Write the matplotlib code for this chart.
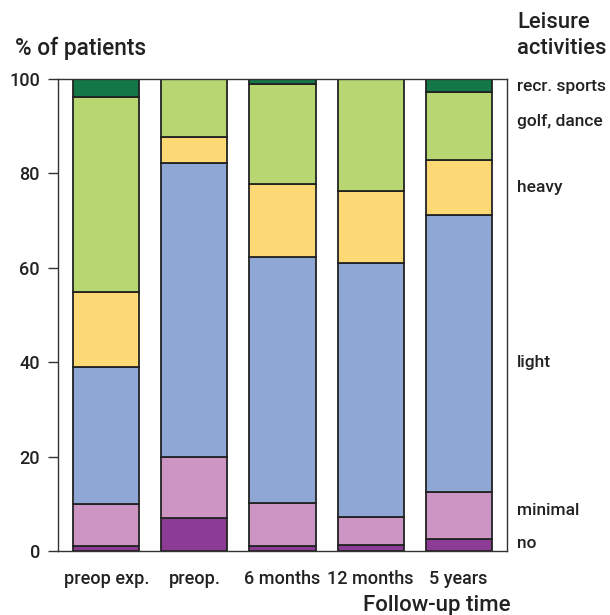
import numpy as np
import matplotlib

matplotlib.use("Agg")
import matplotlib.pyplot as plt

plt.rcParams["font.family"] = ["Roboto", "DejaVu Sans"]
plt.rcParams["font.weight"] = "medium"

periods = ["preop exp.", "preop.", "6 months", "12 months", "5 years"]
activities = ["no", "minimal", "light", "heavy", "golf, dance", "recr. sports"]
colors = ["#8c3c95", "#cc95c4", "#8fa7d4", "#fdd976", "#b8d672", "#137748"]

# % of patients per activity level (bottom to top)
no_act = [1.0, 7.0, 1.0, 1.2, 2.6]
minimal = [9.0, 13.0, 9.2, 6.0, 10.0]
light = [28.9, 62.1, 52.0, 53.8, 58.6]
heavy = [15.9, 5.7, 15.6, 15.2, 11.6]
golf_dance = [41.4, 12.2, 21.1, 23.8, 14.4]
recr_sports = [3.8, 0.0, 1.1, 0.0, 2.8]
series = [no_act, minimal, light, heavy, golf_dance, recr_sports]

# label heights on the right side
label_y = [1.5, 8.5, 40, 77, 91, 98.5]

txt = "#222222"
fig = plt.figure(figsize=(6.1, 6.15), dpi=100)
ax = fig.add_axes([58 / 610, 64 / 615, 449 / 610, 472 / 615])

x = np.arange(len(periods))
bottom = np.zeros(len(periods))
for vals, c in zip(series, colors):
    vals = np.array(vals)
    mask = vals > 0
    ax.bar(x[mask], vals[mask], 0.75, bottom=bottom[mask], color=c,
           edgecolor="#222222", linewidth=1.3)
    bottom += vals

ax.set_xlim(-0.55, 4.55)
ax.set_ylim(0, 100)
ax.set_yticks([0, 20, 40, 60, 80, 100])
ax.set_xticks(x)
ax.set_xticklabels(periods)
ax.tick_params(axis="y", length=7, width=1, color="#333333", labelsize=13,
               labelcolor=txt, pad=6)
ax.tick_params(axis="x", length=0, labelsize=13, labelcolor=txt, pad=14)
for s in ax.spines.values():
    s.set_color("#333333")
    s.set_linewidth(1)

for name, yv in zip(activities, label_y):
    ax.text(1.022, yv / 100, name, transform=ax.transAxes, fontsize=12.5,
            color=txt, va="center", ha="left")

fig.text(15 / 610, 1 - 48 / 615, "% of patients", fontsize=16.3, color=txt,
         va="center", ha="left")
fig.text(517 / 610, 1 - 22 / 615, "Leisure", fontsize=15.8, color=txt,
         va="center", ha="left")
fig.text(517 / 610, 1 - 48 / 615, "activities", fontsize=15.8, color=txt,
         va="center", ha="left")
fig.text(437 / 610, 1 - 605 / 615, "Follow-up time", fontsize=16, color=txt,
         va="center", ha="center")

fig.savefig("out.png", dpi=100)
